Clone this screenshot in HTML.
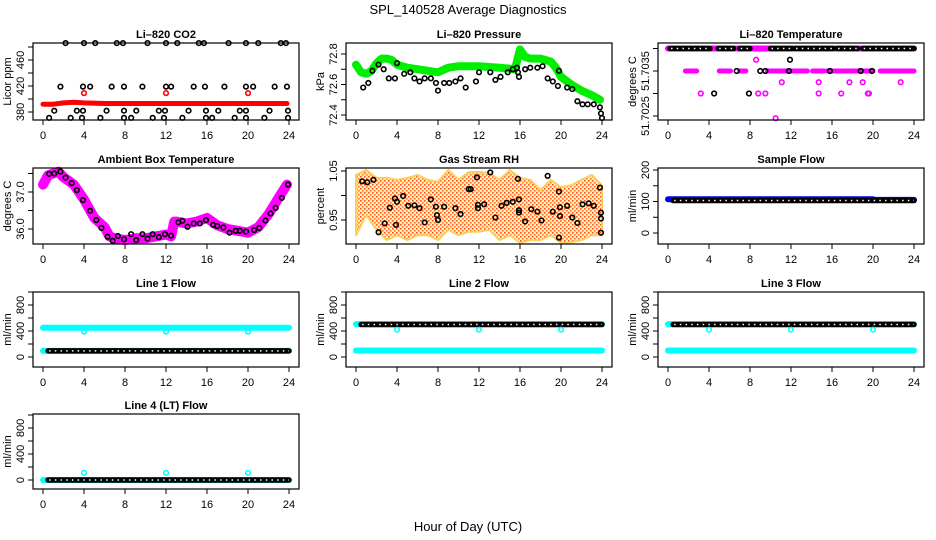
<!DOCTYPE html>
<html><head><meta charset="utf-8">
<style>
html,body{margin:0;padding:0;background:#fff;}
svg{display:block;font-family:"Liberation Sans",sans-serif;}
</style></head>
<body>
<svg id="chart" width="936" height="540" viewBox="0 0 936 540" xmlns="http://www.w3.org/2000/svg">
<defs>
<pattern id="rhpat" width="4" height="4" patternUnits="userSpaceOnUse">
<rect width="4" height="4" fill="#ffe040"/>
<rect x="0" y="0" width="1.5" height="1.5" fill="#ff3000"/>
<rect x="2" y="2" width="1.5" height="1.5" fill="#ff6000"/>
<rect x="2" y="0" width="1.5" height="1.5" fill="#fff8c0"/>
<rect x="0" y="2" width="1.5" height="1.5" fill="#fff8c0"/>
</pattern>
</defs>
<text x="468" y="14" text-anchor="middle" font-size="13">SPL_140528  Average Diagnostics</text>
<text x="468" y="531" text-anchor="middle" font-size="13">Hour of Day (UTC)</text>
</svg>
<script>
// ---------- data ----------
const xTicks = [0,4,8,12,16,20,24];
// CO2
const co2BandHours = [0,1,2,3,4,6,8,10,12,14,16,18,20,22,23.8];
const co2BandVals  = [392,392,394,395,394,393,393,393,393,393,393,393,393,393,393];
const co2RedHours = [4,12,20];
const co2RedVals  = [409,409,409];
const co2BlkHours = [2.2,4.0,5.1,7.2,7.8,10.2,12.0,13.1,15.2,15.7,18.1,19.8,21.0,23.2,23.7,
  1.7,3.9,4.6,6.7,7.9,9.7,12.0,12.5,14.7,15.8,17.7,19.8,20.5,22.6,23.8,
  1.1,3.3,3.9,6.2,7.9,9.1,11.3,11.9,14.2,15.9,17.1,19.2,19.8,22.1,23.9,
  0.6,2.7,3.8,5.6,7.9,8.6,10.7,11.8,13.6,15.9,16.5,18.7,19.8,21.6,23.9];
const co2BlkVals = [486,486,486,486,486,486,486,486,486,486,486,486,486,486,486,
  419,419,419,419,419,419,419,419,419,419,419,419,419,419,419,
  382,382,382,382,382,382,382,382,382,382,382,382,382,382,382,
  371,371,371,371,371,371,371,371,371,371,371,371,371,371,371];
// Pressure
const prGreenHours = [0,0.5,1,1.5,2,2.5,3,3.5,4,5,6,7,8,9,10,12,14,15.5,16,16.5,17,18,19,19.5,20,21,22,23,23.8];
const prGreenVals  = [72.73,72.68,72.67,72.69,72.74,72.77,72.77,72.76,72.73,72.71,72.70,72.69,72.68,72.71,72.72,72.72,72.71,72.70,72.83,72.78,72.77,72.77,72.75,72.71,72.65,72.60,72.56,72.53,72.50];
const prBlkHours = [0.7,1.2,1.6,2.2,2.7,3.2,3.8,4.0,4.7,5.3,5.7,6.2,6.7,7.3,7.8,8.0,8.6,9.1,9.7,10.2,10.7,
  11.7,12.0,13.1,13.6,14.1,14.8,15.3,15.7,15.8,15.9,16.5,17.0,17.7,18.2,19.8,18.7,19.2,19.7,20.6,21.1,21.6,22.1,22.6,23.2,23.8,23.9,24.0];
const prBlkVals = [72.58,72.61,72.69,72.73,72.70,72.64,72.64,72.74,72.67,72.68,72.64,72.62,72.64,72.64,72.61,72.56,72.61,72.61,72.62,72.64,72.58,
  72.62,72.68,72.68,72.63,72.65,72.68,72.70,72.71,72.68,72.65,72.70,72.71,72.71,72.72,72.69,72.64,72.62,72.59,72.58,72.57,72.49,72.47,72.47,72.47,72.45,72.41,72.38];
// Li-820 temperature
const tTopSeg = [[0,24,51.7040]];
const tBlkTopSeg = [[0.2,4.1,51.7040],[4.9,6.4,51.7040],[7.0,8.0,51.7040],[10.0,12.1,51.7040],[12.4,16.1,51.7040],[16.5,18.5,51.7040],[19.0,24,51.7040]];
const tPinkMidSeg = [[1.7,2.8,51.7035],[5.0,5.0,51.7035],[5.1,6.1,51.7035],[7.0,7.6,51.7035],[9.7,13.6,51.7035],[14.1,15.2,51.7035],[15.5,20.0,51.7035],[20.7,24,51.7035]];
const tPinkHours = [8.6,11.1,14.7,17.7,19.0,22.7,3.2,8.8,9.5,14.7,16.9,19.5,19.6,10.5];
const tPinkVals  = [51.70375,51.70325,51.70325,51.70325,51.70325,51.70325,51.7030,51.7030,51.7030,51.7030,51.7030,51.7030,51.7030,51.70245];
const tBlkHours = [11.9,4.5,7.9,6.7,9.0,9.5,11.8,15.8,18.8,19.9];
const tBlkVals  = [51.70375,51.7030,51.7030,51.7035,51.7035,51.7035,51.7035,51.7035,51.7035,51.7035];
// Ambient box temperature
const abHours = [0,0.5,1.5,2,3,4,5,6,6.5,7,8,9,10,11,12,12.5,12.8,13,14,15,16,17,18,19,20,21,22,23,23.8];
const abVals  = [37.2,37.45,37.55,37.4,37.2,36.8,36.3,36.05,35.8,35.75,35.7,35.75,35.75,35.8,35.85,35.8,36.2,36.2,36.15,36.2,36.3,36.1,36.0,35.95,35.9,36.05,36.4,36.85,37.2];
const abBlkHours = [0.6,1.1,1.7,2.2,2.8,3.3,3.9,4.6,5.2,5.7,6.3,6.8,7.3,7.9,8.6,9.1,9.7,10.2,10.7,11.3,11.9,12.5,13.2,13.6,14.1,14.7,15.3,15.9,16.6,17.0,17.6,18.2,18.8,19.2,19.8,20.6,21.1,21.7,22.2,22.7,23.3,23.9];
const abBlkVals  = [37.49,37.5,37.55,37.39,37.24,37.05,36.78,36.49,36.24,36.03,35.79,35.68,35.81,35.72,35.86,35.70,35.86,35.74,35.86,35.78,35.86,35.82,36.18,36.22,36.06,36.15,36.15,36.24,36.11,36.08,36.04,35.90,35.95,35.95,35.93,35.97,36.03,36.23,36.42,36.57,36.84,37.20];
// Gas stream RH
const rhHours = [0,1,2,3,4,5,6,7,8,9,10,11,12,13,14,15,16,17,18,19,20,21,22,23,24];
const rhUpper = [1.042,1.052,1.036,1.036,1.032,1.036,1.042,1.032,1.028,1.052,1.032,1.048,1.048,1.046,1.032,1.052,1.036,1.032,1.011,1.032,1.017,1.021,1.032,1.042,1.021];
const rhLower = [0.919,0.960,0.930,0.909,0.919,0.909,0.919,0.919,0.909,0.930,0.919,0.926,0.926,0.930,0.909,0.919,0.903,0.909,0.909,0.919,0.903,0.905,0.909,0.919,0.919];
const rhBlkHours = [0.6,1.1,1.7,2.2,2.8,3.3,3.8,4.0,3.9,4.6,5.1,5.7,6.2,6.7,7.3,7.8,7.9,8.0,8.6,9.7,10.2,11.0,11.2,11.8,11.9,11.9,12.5,13.1,13.6,14.2,14.7,15.3,15.8,15.9,15.9,15.9,16.5,17.1,17.7,18.1,18.7,19.2,19.8,19.9,19.9,19.8,20.6,21.1,21.6,22.1,22.7,23.2,23.8,23.9,23.9,23.9];
const rhBlkVals  = [1.029,1.027,1.032,0.925,0.943,0.975,0.994,0.987,0.940,0.999,0.979,0.980,0.974,0.945,0.992,0.977,0.960,0.950,0.977,0.974,0.962,1.013,1.013,1.037,0.981,0.974,0.982,1.047,0.955,0.979,0.985,0.987,1.034,0.992,0.970,0.965,0.947,0.972,0.967,0.949,1.040,0.967,1.008,0.976,0.958,0.914,0.979,0.955,0.944,0.982,0.984,0.979,1.016,0.965,0.953,0.924];
// Sample flow
const sfBlueSeg = [[0,20,107],[20,24,105]];
const sfBlkSeg  = [[0.5,24,103]];
// Line flows
const l1CyanSeg = [[0,24,450],[0,24,95]];
const l1CyanOutH = [4,12,20]; const l1CyanOutV = [390,390,390];
const l1BlkSeg = [[0.5,24,95]];
const l2CyanSeg = [[0,24,505],[0,24,100]];
const l2CyanOutH = [4,12,20]; const l2CyanOutV = [420,420,420];
const l2BlkSeg = [[0.5,24,500]];
const l3CyanSeg = [[0,24,505],[0,24,100]];
const l3CyanOutH = [4,12,20]; const l3CyanOutV = [420,420,420];
const l3BlkSeg = [[0.5,24,500]];
const l4CyanSeg = [[0,24,0]];
const l4CyanOutH = [4,12,20]; const l4CyanOutV = [110,110,110];
const l4BlkSeg = [[0.5,24,0]];

// ---------- drawing ----------
const NS = "http://www.w3.org/2000/svg";
const svg = document.getElementById('chart');
const colL = [33,346,658], boxW = 266;
const rowT = [43,168,292,414], rowH = [77,76,75,75];
function mk(tag, attrs, parent){ const e=document.createElementNS(NS,tag); for(const k in attrs) e.setAttribute(k,attrs[k]); (parent||svg).appendChild(e); return e; }

function panel(c, r, name, title, ylab, y1v, y1p, y2v, y2p, yTicks, yLabels){
  const g = mk('g',{});
  
  
  const L = colL[c], T = rowT[r], H = rowH[r];
  const xs = h => L + 10 + h * 246/24;
  const ys = v => y1p + (v - y1v) * (y2p - y1p) / (y2v - y1v);
  const t = mk('text',{x:L+boxW/2, y:T-5, 'text-anchor':'middle','font-size':11,'font-weight':'bold'}, g);
  t.textContent = title;
  
  
  const yl = mk('text',{x:0,y:0,transform:`translate(${L-22},${T+H/2}) rotate(-90)`,'text-anchor':'middle','font-size':11}, g);
  yl.textContent = ylab;
  
  
  const ax = mk('g',{}, g);
  
  
  xTicks.forEach(h=>{
    mk('line',{x1:xs(h),x2:xs(h),y1:T+H,y2:T+H+5,stroke:'#000','stroke-width':1},ax);
    const tl = mk('text',{x:xs(h),y:T+H+19,'text-anchor':'middle','font-size':11},ax);
    tl.textContent = h;
  });
  const ay = mk('g',{}, g);
  
  
  yTicks.forEach(v=>{
    mk('line',{x1:L-5,x2:L,y1:ys(v),y2:ys(v),stroke:'#000','stroke-width':1},ay);
  });
  yLabels.forEach(([v,s])=>{
    const tl = mk('text',{x:0,y:0,transform:`translate(${L-9},${ys(v)}) rotate(-90)`,'text-anchor':'middle','font-size':11},ay);
    tl.textContent = s;
  });
  const plot = mk('g',{}, g);
  const box = mk('rect',{x:L,y:T,width:boxW,height:H,fill:'none',stroke:'#000','stroke-width':1.2}, g);
  
  
  return {g:plot, xs, ys};
}
function pts(p, hs, vs, color, name, r){
  const g = mk('g',{}, p.g);
  
  
  hs.forEach((h,i)=>{
    mk('circle',{cx:p.xs(h),cy:p.ys(vs[i]),r:r||2.3,fill:'none',stroke:color,'stroke-width':1.6},g);
  });
}
function band(p, hs, vs, color, w, name){
  const d = hs.map((h,i)=>(i?'L':'M')+p.xs(h).toFixed(1)+','+p.ys(vs[i]).toFixed(1)).join('');
  const e = mk('path',{d, fill:'none', stroke:color,'stroke-width':w,'stroke-linecap':'round','stroke-linejoin':'round'}, p.g);
  
  
}
function segs(p, list, color, w, name){
  const g = mk('g',{}, p.g);
  
  
  list.forEach(([a,b,v])=>{
    mk('line',{x1:p.xs(a),x2:p.xs(b)+0.01,y1:p.ys(v),y2:p.ys(v),stroke:color,'stroke-width':w,'stroke-linecap':'round'},g);
  });
}
function chain(p, list, name){
  const g = mk('g',{}, p.g);
  
  
  list.forEach(([a,b,v])=>{
    mk('line',{x1:p.xs(a),x2:p.xs(b)+0.01,y1:p.ys(v),y2:p.ys(v),stroke:'#000','stroke-width':5.5,'stroke-linecap':'round'},g);
    mk('line',{x1:p.xs(a)+1,x2:p.xs(b),y1:p.ys(v),y2:p.ys(v),stroke:'#fff','stroke-width':1.5,'stroke-dasharray':'1.5 4.2'},g);
  });
}

// Row 1
let p = panel(0,0,'co2-panel','Li\u2013820 CO2','Licor ppm',380,112,460,60,[380,400,420,440,460,480],[[380,'380'],[420,'420'],[460,'460']]);
band(p, co2BandHours, co2BandVals, '#ff0000', 5, 'co2-red-series');
pts(p, co2RedHours, co2RedVals, '#ff0000', 'co2-red-outliers');
pts(p, co2BlkHours, co2BlkVals, '#000', 'co2-black-points');

p = panel(1,0,'pressure-panel','Li\u2013820 Pressure','kPa',72.4,115,72.8,54,[72.4,72.5,72.6,72.7,72.8],[[72.4,'72.4'],[72.6,'72.6'],[72.8,'72.8']]);
band(p, prGreenHours, prGreenVals, '#00ee00', 8, 'pressure-green-series');
pts(p, prBlkHours, prBlkVals, '#000', 'pressure-black-points');

p = panel(2,0,'li820-temp-panel','Li\u2013820 Temperature','degrees C',51.7025,116,51.7035,71,[51.7025,51.7030,51.7035,51.7040],[[51.7025,'51.7025'],[51.7035,'51.7035']]);
segs(p, tTopSeg, '#ff00ff', 6, 'temp-magenta-top');
segs(p, tPinkMidSeg, '#ff00ff', 5, 'temp-magenta-mid');
chain(p, tBlkTopSeg, 'temp-black-top');
pts(p, tPinkHours, tPinkVals, '#ff00ff', 'temp-magenta-points');
pts(p, tBlkHours, tBlkVals, '#000', 'temp-black-points');

// Row 2
p = panel(0,1,'ambient-temp-panel','Ambient Box Temperature','degrees C',36.0,229,37.0,192,[36.0,36.5,37.0,37.5],[[36.0,'36.0'],[37.0,'37.0']]);
band(p, abHours, abVals, '#ff00ff', 10, 'ambient-magenta-series');
pts(p, abBlkHours, abBlkVals, '#000', 'ambient-black-points');

p = panel(1,1,'rh-panel','Gas Stream RH','percent',0.95,220,1.05,171,[0.95,1.0,1.05],[[0.95,'0.95'],[1.05,'1.05']]);
{
  const d = rhHours.map((h,i)=>(i?'L':'M')+p.xs(h).toFixed(1)+','+p.ys(rhUpper[i]).toFixed(1)).join('') +
    rhHours.slice().reverse().map((h,j)=>{const i=rhHours.length-1-j; return 'L'+p.xs(h).toFixed(1)+','+p.ys(rhLower[i]).toFixed(1);}).join('') + 'Z';
  const e = mk('path',{d, fill:'url(#rhpat)', stroke:'#f8c840','stroke-width':2,'stroke-linejoin':'round', opacity:0.85}, p.g);
  
  
}
pts(p, rhBlkHours, rhBlkVals, '#000', 'rh-black-points');

p = panel(2,1,'sample-flow-panel','Sample Flow','ml/min',0,233,200,170,[0,50,100,150,200],[[0,'0'],[100,'100'],[200,'200']]);
segs(p, sfBlueSeg, '#0000ff', 6, 'sample-flow-blue');
chain(p, sfBlkSeg, 'sample-flow-black');

// Row 3 & 4
const flowTicks = [0,200,400,600,800,1000];
const flowLabels = [[0,'0'],[400,'400'],[800,'800']];
p = panel(0,2,'line1-flow-panel','Line 1 Flow','ml/min',0,357,400,331,flowTicks,flowLabels);
segs(p, l1CyanSeg, '#00ffff', 6, 'line1-cyan');
chain(p, l1BlkSeg, 'line1-black');
pts(p, l1CyanOutH, l1CyanOutV, '#00ffff', 'line1-cyan-outliers');

p = panel(1,2,'line2-flow-panel','Line 2 Flow','ml/min',0,357,400,331,flowTicks,flowLabels);
segs(p, l2CyanSeg, '#00ffff', 6, 'line2-cyan');
chain(p, l2BlkSeg, 'line2-black');
pts(p, l2CyanOutH, l2CyanOutV, '#00ffff', 'line2-cyan-outliers');

p = panel(2,2,'line3-flow-panel','Line 3 Flow','ml/min',0,357,400,331,flowTicks,flowLabels);
segs(p, l3CyanSeg, '#00ffff', 6, 'line3-cyan');
chain(p, l3BlkSeg, 'line3-black');
pts(p, l3CyanOutH, l3CyanOutV, '#00ffff', 'line3-cyan-outliers');

p = panel(0,3,'line4-flow-panel','Line 4 (LT) Flow','ml/min',0,480,800,428,flowTicks,flowLabels);
segs(p, l4CyanSeg, '#00ffff', 6, 'line4-cyan');
chain(p, l4BlkSeg, 'line4-black');
pts(p, l4CyanOutH, l4CyanOutV, '#00ffff', 'line4-cyan-outliers');
</script>
</body></html>
